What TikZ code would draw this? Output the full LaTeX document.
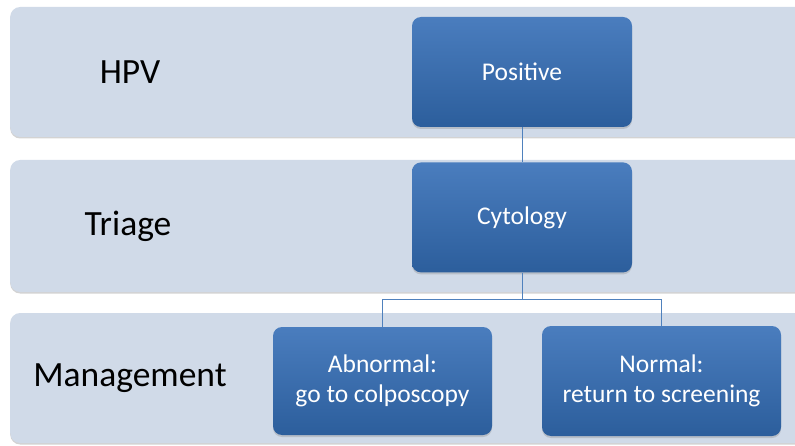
\documentclass[tikz,border=0pt]{standalone}
\usepackage{fontspec}
\setmainfont{Carlito}
\usetikzlibrary{positioning,shadows}

\definecolor{bandfill}{HTML}{D0DAE8}
\definecolor{boxtop}{HTML}{4A7DBE}
\definecolor{boxmid}{HTML}{306DB4}
\definecolor{boxbot}{HTML}{2C5E9C}
\definecolor{linkblue}{HTML}{4F81BD}

\begin{document}
\begin{tikzpicture}[
    x = 1pt, y = 1pt,
    node distance = 35pt, % gap between the two upper boxes
    band/.style = {fill = bandfill, rounded corners = 10pt, anchor = west,
        minimum width = 820pt, inner sep = 0pt,
        drop shadow = {shadow xshift = 0pt, shadow yshift = -1.5pt, opacity = 0.35}},
    level/.style = {font = \fontsize{35.5}{40}\selectfont},
    box/.style = {rounded corners = 9pt, top color = boxtop, middle color = boxmid,
        bottom color = boxbot, text = white, align = center, inner sep = 0pt,
        font = \fontsize{25.5}{30}\selectfont, minimum height = 110pt,
        drop shadow = {shadow xshift = 0pt, shadow yshift = -2pt, opacity = 0.3}},
    link/.style = {draw = linkblue, line width = 1pt}
    ]

    \useasboundingbox (0,0) rectangle (795,445);
    \clip (0,0) rectangle (795,445);

    % bands
    \node[band, minimum height = 130pt] (bandhpv) at (10,373) {};
    \node[band, minimum height = 132pt] (bandtriage) at (10,219) {};
    \node[band, minimum height = 130pt] (bandmanage) at (10,67) {};

    % row labels
    \node[level] (hpv) at (130,373) {HPV};
    \node[level] (triage) at (128,219) {Triage};
    \node[level] (manage) at (130,67) {Management};

    % boxes
    \node[box, minimum width = 220pt] (positive) at (522,373) {Positive};
    \node[box, minimum width = 220pt] (cytology) [below = of positive] {Cytology};
    \node[box, minimum width = 219pt, minimum height = 108pt] (abnormal) at (382.5,64) {Abnormal:\\go to colposcopy};
    \node[box, minimum width = 239pt] (normal) at (661.5,64) {Normal:\\return to screening};

    \draw[link] (positive) -- (cytology);
    \draw[link] (cytology.south) -- ++(0,-27) coordinate (split);
    \draw[link] (split) -| (abnormal.north);
    \draw[link] (split) -| (normal.north);
\end{tikzpicture}
\end{document}
